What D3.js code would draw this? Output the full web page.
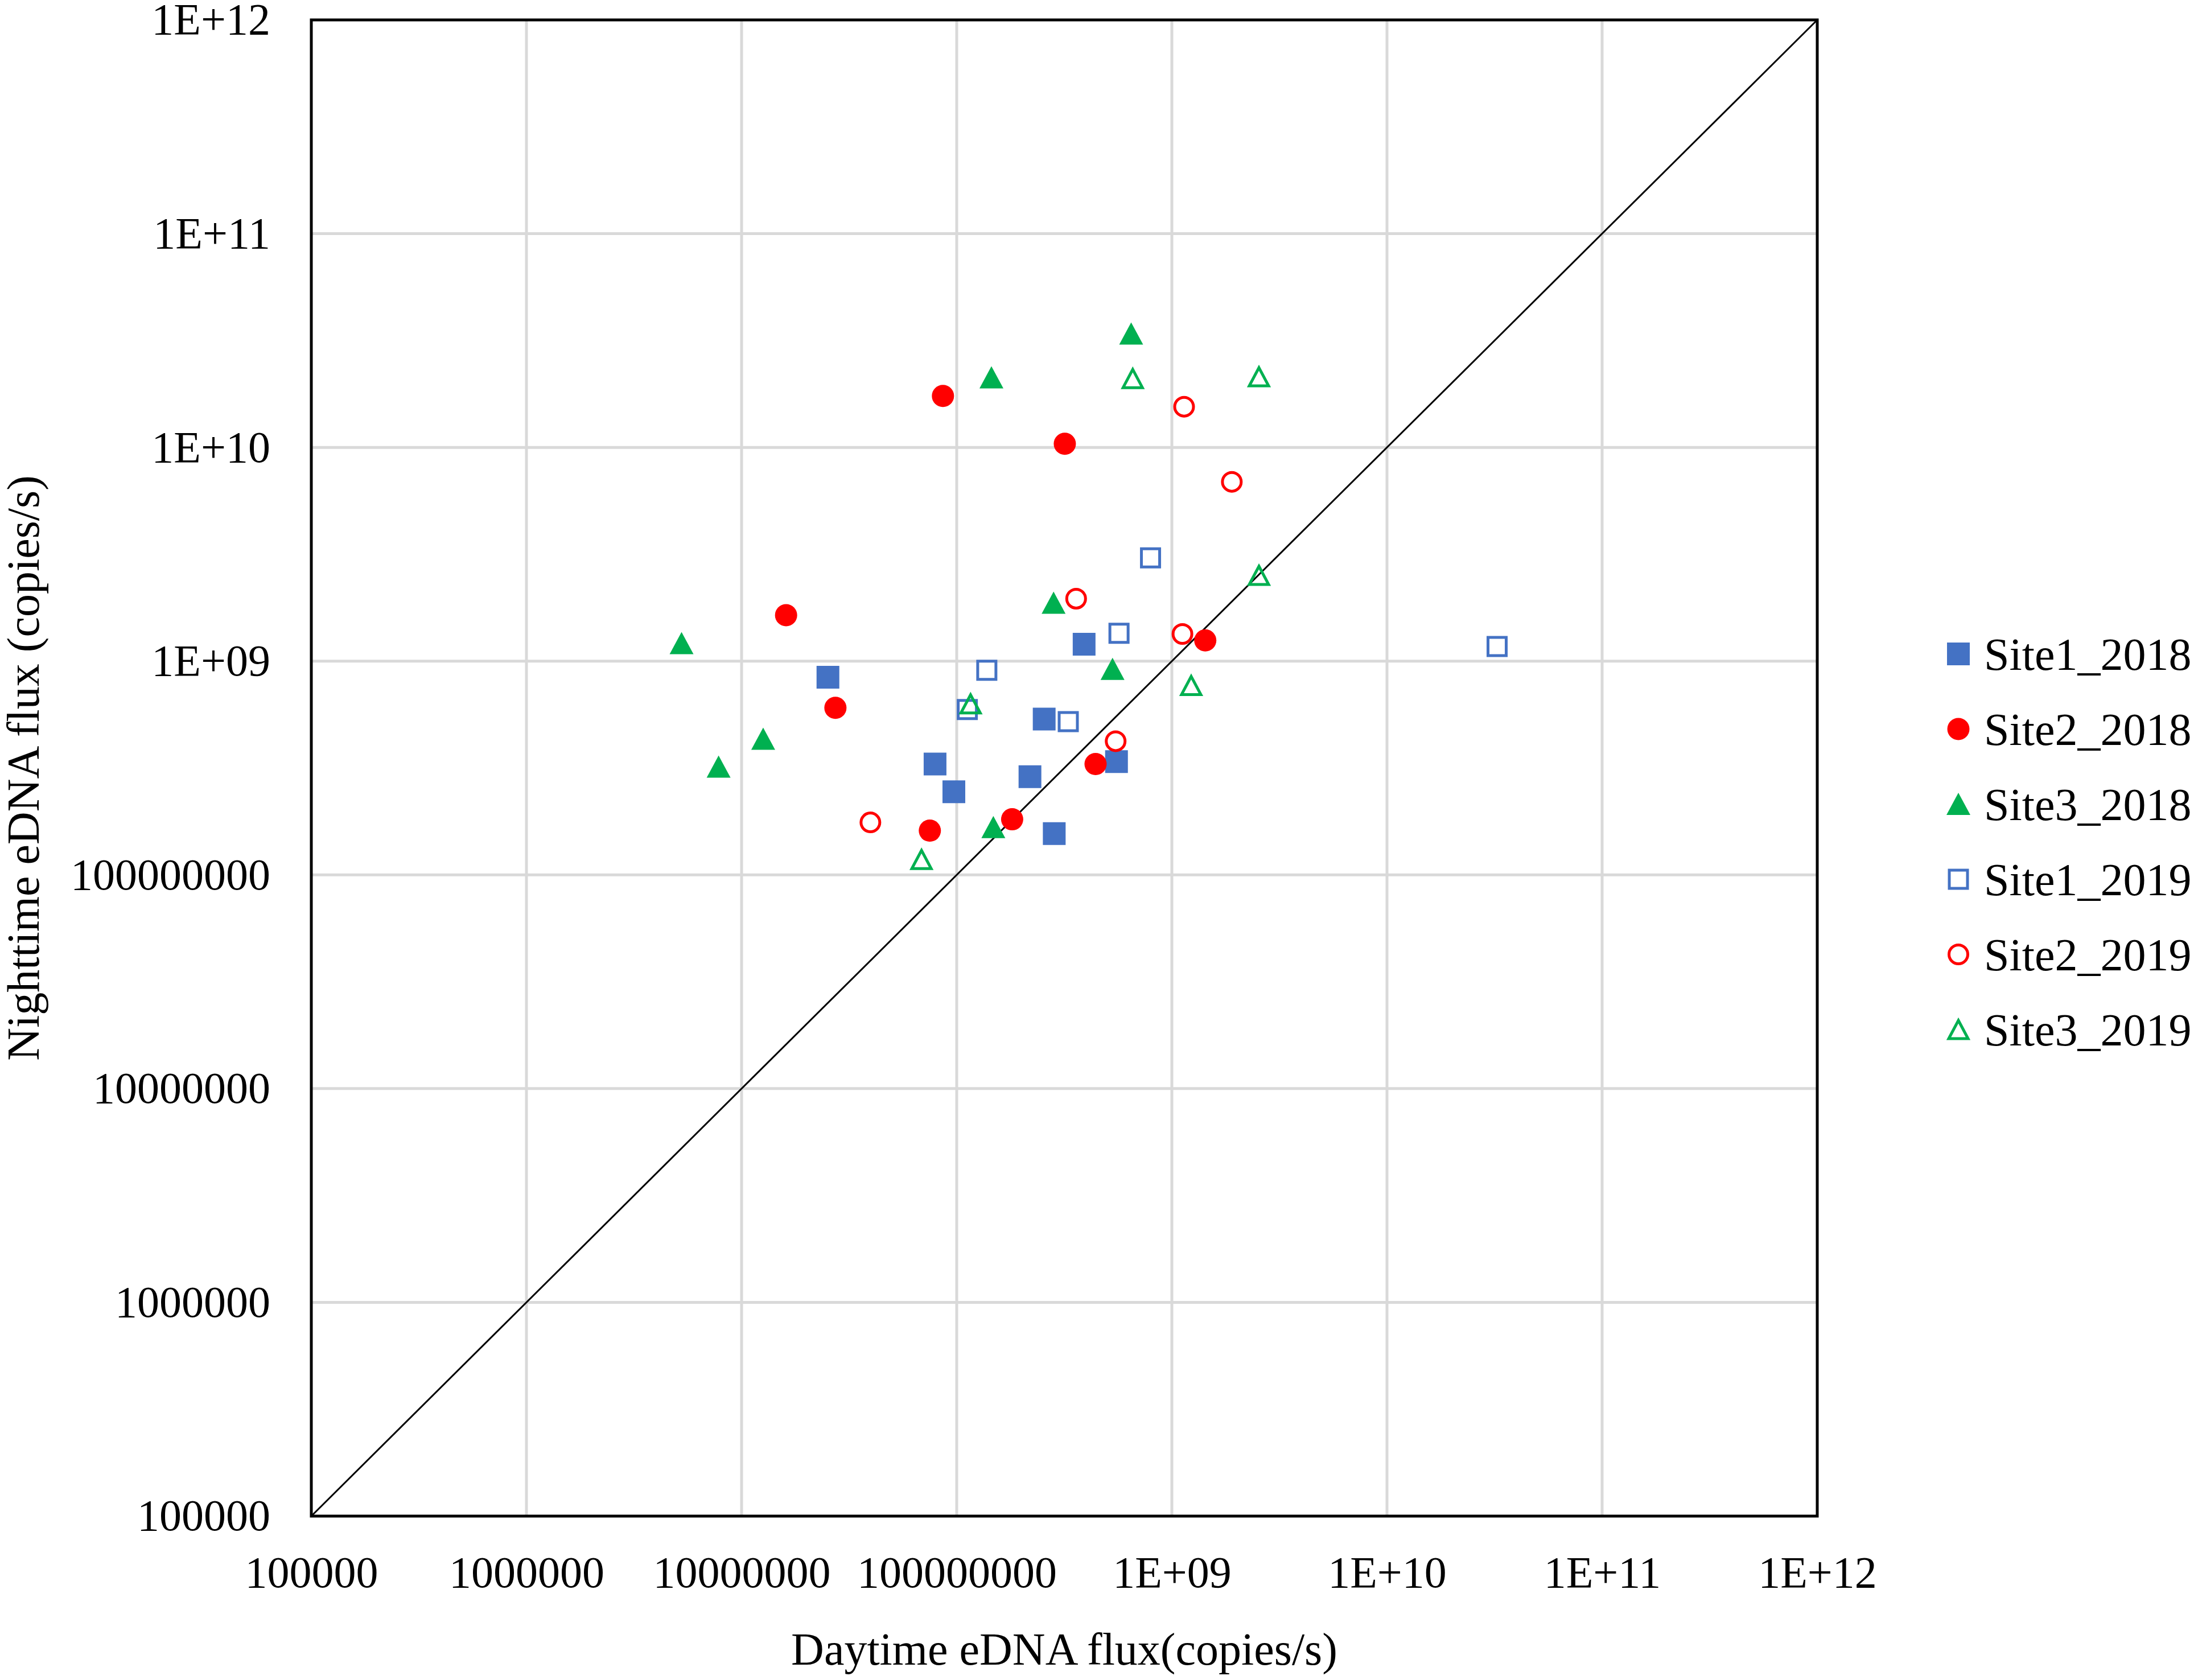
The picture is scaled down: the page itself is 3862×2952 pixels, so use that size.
<!DOCTYPE html>
<html>
<head>
<meta charset="utf-8" />
<title>eDNA flux</title>
<script src="https://d3js.org/d3.v7.min.js"></script>
<style>
  body { margin: 0; background: #fff; }
  text { font-family: "Liberation Serif", "Times New Roman", serif; fill: #000; }
</style>
</head>
<body>
<script>
// tick values and labels (log axes, both the same)
var tickValues = [1e5, 1e6, 1e7, 1e8, 1e9, 1e10, 1e11, 1e12];
var tickLabels = ["100000", "1000000", "10000000", "100000000", "1E+09", "1E+10", "1E+11", "1E+12"];

var seriesNames = ["Site1_2018", "Site2_2018", "Site3_2018", "Site1_2019", "Site2_2019", "Site3_2019"];

// daytime (x) and nighttime (y) flux, copies/s
var site1_2018_day   = [2.52e7, 3.91e8, 2.55e8, 7.93e7, 9.70e7, 2.19e8, 5.53e8, 2.84e8];
var site1_2018_night = [8.41e8, 1.20e9, 5.36e8, 3.30e8, 2.45e8, 2.88e8, 3.39e8, 1.56e8];

var site2_2018_day   = [8.63e7, 3.18e8, 1.61e7, 2.73e7, 1.43e9, 4.42e8, 1.81e8, 7.50e7];
var site2_2018_night = [1.74e10, 1.04e10, 1.64e9, 6.05e8, 1.25e9, 3.30e8, 1.82e8, 1.61e8];

var site3_2018_day   = [6.47e8, 1.45e8, 5.26e6, 2.82e8, 5.30e8, 1.26e7, 7.82e6, 1.48e8];
var site3_2018_night = [3.40e10, 2.12e10, 1.21e9, 1.87e9, 9.18e8, 4.32e8, 3.20e8, 1.67e8];

var site1_2019_day   = [7.96e8, 5.68e8, 1.38e8, 1.12e8, 3.30e8, 3.25e10];
var site1_2019_night = [3.04e9, 1.35e9, 9.06e8, 5.94e8, 5.21e8, 1.17e9];

var site2_2019_day   = [1.14e9, 1.90e9, 3.59e8, 1.12e9, 5.48e8, 3.97e7];
var site2_2019_night = [1.55e10, 6.90e9, 1.96e9, 1.34e9, 4.22e8, 1.76e8];

var site3_2019_day   = [6.58e8, 2.54e9, 2.54e9, 1.23e9, 1.16e8, 6.86e7];
var site3_2019_night = [2.10e10, 2.14e10, 2.52e9, 7.69e8, 6.31e8, 1.18e8];

var W = 3862, H = 2952;
var plotL = 547, plotR = 3193, plotT = 35, plotB = 2664;

var blue = "#4472C4", red = "#FF0000", green = "#00B050";

var series = [
  { name: seriesNames[0], day: site1_2018_day, night: site1_2018_night, shape: "square",   color: blue,  fill: true },
  { name: seriesNames[1], day: site2_2018_day, night: site2_2018_night, shape: "circle",   color: red,   fill: true },
  { name: seriesNames[2], day: site3_2018_day, night: site3_2018_night, shape: "triangle", color: green, fill: true },
  { name: seriesNames[3], day: site1_2019_day, night: site1_2019_night, shape: "square",   color: blue,  fill: false },
  { name: seriesNames[4], day: site2_2019_day, night: site2_2019_night, shape: "circle",   color: red,   fill: false },
  { name: seriesNames[5], day: site3_2019_day, night: site3_2019_night, shape: "triangle", color: green, fill: false }
];

var svg = d3.select("body").append("svg")
  .attr("width", W)
  .attr("height", H);

svg.append("rect").attr("width", W).attr("height", H).attr("fill", "#fff");

var x = d3.scaleLog().domain([1e5, 1e12]).range([plotL, plotR]);
var y = d3.scaleLog().domain([1e5, 1e12]).range([plotB, plotT]);

// gridlines
var grid = svg.append("g");
grid.selectAll("line.vx")
  .data(tickValues.slice(1, -1))
  .enter().append("line")
  .attr("class", "vx")
  .attr("x1", function(d){ return x(d); })
  .attr("x2", function(d){ return x(d); })
  .attr("y1", plotT).attr("y2", plotB)
  .attr("stroke", "#D9D9D9").attr("stroke-width", 5);
grid.selectAll("line.hy")
  .data(tickValues.slice(1, -1))
  .enter().append("line")
  .attr("class", "hy")
  .attr("y1", function(d){ return y(d); })
  .attr("y2", function(d){ return y(d); })
  .attr("x1", plotL).attr("x2", plotR)
  .attr("stroke", "#D9D9D9").attr("stroke-width", 5);

// 1:1 line
svg.append("line")
  .attr("x1", x(1e5)).attr("y1", y(1e5))
  .attr("x2", x(1e12)).attr("y2", y(1e12))
  .attr("stroke", "#000").attr("stroke-width", 3);

// axes
var fmt = function(d){ return tickLabels[tickValues.indexOf(d)]; };

var xAxis = svg.append("g")
  .attr("transform", "translate(0," + plotB + ")")
  .call(d3.axisBottom(x).tickValues(tickValues).tickFormat(fmt).tickSize(0).tickPadding(70));
xAxis.select(".domain").remove();
xAxis.selectAll("text").attr("font-size", 78).attr("font-family", "Liberation Serif");

var yAxis = svg.append("g")
  .attr("transform", "translate(" + plotL + ",0)")
  .call(d3.axisLeft(y).tickValues(tickValues).tickFormat(fmt).tickSize(0).tickPadding(72));
yAxis.select(".domain").remove();
yAxis.selectAll("text").attr("font-size", 78).attr("font-family", "Liberation Serif");

// plot border
svg.append("rect")
  .attr("x", plotL).attr("y", plotT)
  .attr("width", plotR - plotL).attr("height", plotB - plotT)
  .attr("fill", "none").attr("stroke", "#000").attr("stroke-width", 5);

// markers
function markerPath(shape) {
  if (shape === "square") return "M-20,-20H20V20H-20Z";
  if (shape === "triangle") return "M0,-20L21,19H-21Z";
  return d3.symbol().type(d3.symbolCircle).size(Math.PI * 19.5 * 19.5)();
}
function openPath(shape) {
  if (shape === "square") return "M-16,-16H16V16H-16Z";
  if (shape === "triangle") return "M0,-16L17,16H-17Z";
  return d3.symbol().type(d3.symbolCircle).size(Math.PI * 16.5 * 16.5)();
}

var pts = svg.append("g");
series.forEach(function(s) {
  var data = s.day.map(function(d, i){ return [d, s.night[i]]; });
  pts.append("g").selectAll("path")
    .data(data)
    .enter().append("path")
    .attr("transform", function(d){ return "translate(" + x(d[0]) + "," + y(d[1]) + ")"; })
    .attr("d", s.fill ? markerPath(s.shape) : openPath(s.shape))
    .attr("fill", s.fill ? s.color : "none")
    .attr("stroke", s.fill ? "none" : s.color)
    .attr("stroke-width", s.fill ? 0 : 5);
});

// legend
var legend = svg.append("g").attr("transform", "translate(3441,1149)");
var rows = legend.selectAll("g")
  .data(series)
  .enter().append("g")
  .attr("transform", function(d, i){ return "translate(0," + (i * 132) + ")"; });
rows.append("path")
  .attr("d", function(d){ return d.fill ? markerPath(d.shape) : openPath(d.shape); })
  .attr("fill", function(d){ return d.fill ? d.color : "none"; })
  .attr("stroke", function(d){ return d.fill ? "none" : d.color; })
  .attr("stroke-width", function(d){ return d.fill ? 0 : 5; });
rows.append("text")
  .attr("x", 45)
  .attr("dy", "0.35em")
  .attr("font-size", 80)
  .text(function(d){ return d.name; });

// axis titles
svg.append("text")
  .attr("x", (plotL + plotR) / 2)
  .attr("y", 2925)
  .attr("text-anchor", "middle")
  .attr("font-size", 80)
  .text("Daytime eDNA flux(copies/s)");

svg.append("text")
  .attr("transform", "translate(68," + ((plotT + plotB) / 2) + ") rotate(-90)")
  .attr("text-anchor", "middle")
  .attr("font-size", 80)
  .text("Nighttime eDNA flux (copies/s)");
</script>
</body>
</html>
